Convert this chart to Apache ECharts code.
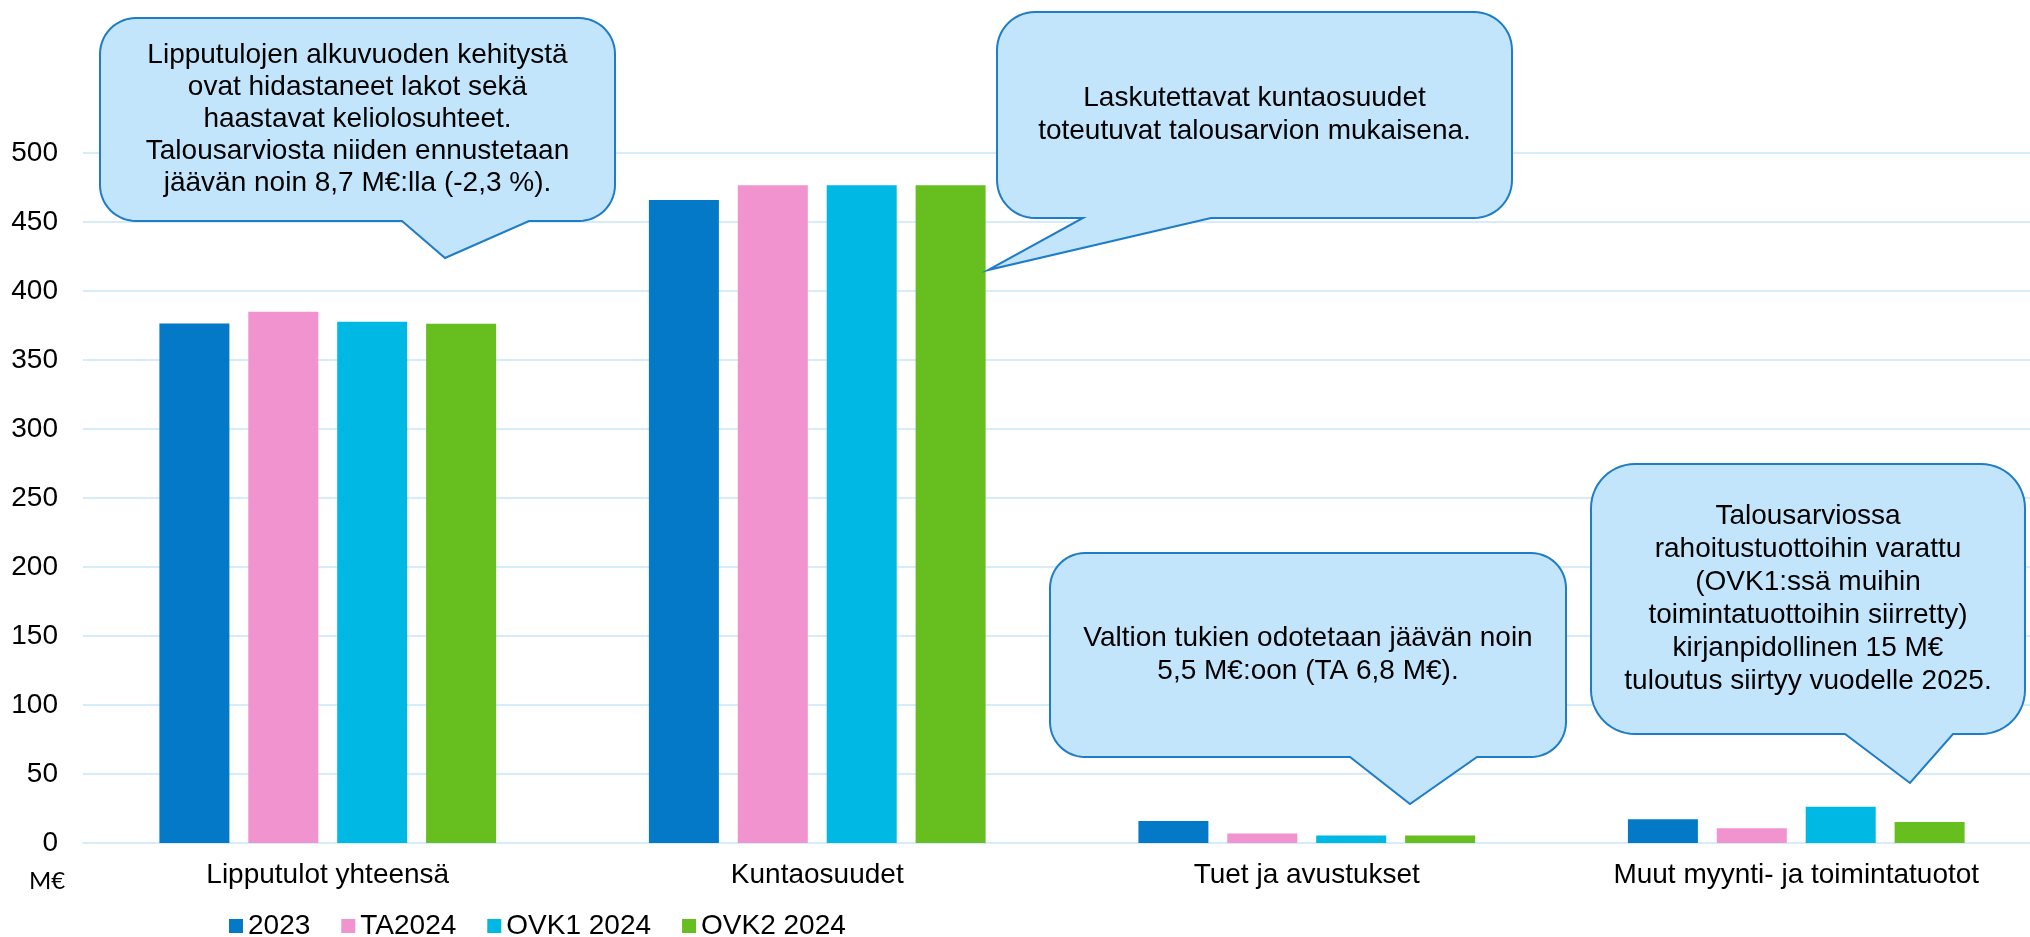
<!DOCTYPE html>
<html>
<head>
<meta charset="utf-8">
<script src="https://cdn.jsdelivr.net/npm/echarts@6/dist/echarts.min.js"></script>
<style>
html,body{margin:0;padding:0;background:#fff;overflow:hidden;width:2030px;height:937px;}
#chart{width:2060px;height:937px;}
</style>
</head>
<body>
<div id="chart"></div>
<script>
// ---- data ----
const categories = ['Lipputulot yhteensä', 'Kuntaosuudet', 'Tuet ja avustukset', 'Muut myynti- ja toimintatuotot'];
const seriesNames = ['2023', 'TA2024', 'OVK1 2024', 'OVK2 2024'];
const values2023 = [376.4, 466.0, 16.0, 17.2];
const valuesTA2024 = [385.0, 476.7, 6.8, 10.7];
const valuesOVK1 = [377.7, 476.7, 5.5, 26.2];
const valuesOVK2 = [376.3, 476.7, 5.5, 15.3];
const yTicks = { min: 0, max: 500, interval: 50 };
const unitLabel = 'M€';
const calloutTexts = [
  'Lipputulojen alkuvuoden kehitystä\novat hidastaneet lakot sekä\nhaastavat keliolosuhteet.\nTalousarviosta niiden ennustetaan\njäävän noin 8,7 M€:lla (-2,3 %).',
  'Laskutettavat kuntaosuudet\ntoteutuvat talousarvion mukaisena.',
  'Valtion tukien odotetaan jäävän noin\n5,5 M€:oon (TA 6,8 M€).',
  'Talousarviossa\nrahoitustuottoihin varattu\n(OVK1:ssä muihin\ntoimintatuottoihin siirretty)\nkirjanpidollinen 15 M€\ntuloutus siirtyy vuodelle 2025.'
];

// ---- styling ----
const colors = ['#0479C8', '#F093CE', '#00B8E4', '#66BE1F'];
const FONT = '"Liberation Sans", Arial, sans-serif';
const gridColor = '#D6ECFB';
const calloutFill = '#C2E5FB';
const calloutStroke = '#1F7CC6';

// callout geometry (annotation layout, in pixels)
const calloutBoxes = [
  { x: 100, y: 18, w: 515, h: 203, r: 36, b1: 402, b2: 529, tx: 445, ty: 258, lh: 32 },
  { x: 997, y: 12, w: 515, h: 206, r: 38, b1: 1083, b2: 1211, tx: 988, ty: 270, lh: 33 },
  { x: 1050, y: 553, w: 516, h: 204, r: 35, b1: 1350, b2: 1477, tx: 1410, ty: 804, lh: 33 },
  { x: 1591, y: 464, w: 434, h: 270, r: 44, b1: 1845, b2: 1953, tx: 1910, ty: 783, lh: 33 }
];

function arcPts(cx, cy, r, a0, a1, n) {
  const pts = [];
  for (let i = 0; i <= n; i++) {
    const a = a0 + (a1 - a0) * i / n;
    pts.push([cx + r * Math.cos(a), cy + r * Math.sin(a)]);
  }
  return pts;
}

function calloutPoints(c) {
  const x0 = c.x, y0 = c.y, x1 = c.x + c.w, y1 = c.y + c.h, r = c.r, n = 14;
  const P = Math.PI;
  let pts = [];
  pts = pts.concat(arcPts(x0 + r, y0 + r, r, P, 1.5 * P, n));
  pts = pts.concat(arcPts(x1 - r, y0 + r, r, 1.5 * P, 2 * P, n));
  pts = pts.concat(arcPts(x1 - r, y1 - r, r, 0, 0.5 * P, n));
  pts.push([c.b2, y1], [c.tx, c.ty], [c.b1, y1]);
  pts = pts.concat(arcPts(x0 + r, y1 - r, r, 0.5 * P, P, n));
  return pts;
}

const graphics = [];
calloutBoxes.forEach((c, i) => {
  graphics.push({
    type: 'polygon',
    z: 100,
    shape: { points: calloutPoints(c) },
    style: { fill: calloutFill, stroke: calloutStroke, lineWidth: 2 }
  });
  graphics.push({
    type: 'text',
    z: 101,
    x: c.x + c.w / 2,
    y: c.y + c.h / 2,
    style: {
      text: calloutTexts[i],
      font: '28px ' + FONT,
      fill: '#000',
      align: 'center',
      verticalAlign: 'middle',
      lineHeight: c.lh
    }
  });
});
graphics.push({
  type: 'text',
  x: 47,
  y: 881,
  style: {
    text: unitLabel,
    font: '24px Lato, "Open Sans", sans-serif',
    fill: '#000',
    align: 'center',
    verticalAlign: 'middle'
  }
});

const valueSets = [values2023, valuesTA2024, valuesOVK1, valuesOVK2];
const series = seriesNames.map((name, i) => ({
  name: name,
  type: 'bar',
  data: valueSets[i],
  barWidth: 70,
  barGap: '27%',
  itemStyle: { color: colors[i] },
  emphasis: { disabled: true }
}));

const chart = echarts.init(document.getElementById('chart'), null, { renderer: 'canvas' });
chart.setOption({
  animation: false,
  backgroundColor: '#fff',
  color: colors,
  grid: { left: 83, top: 153, width: 1958, height: 690, containLabel: false },
  legend: {
    data: seriesNames,
    left: 224,
    top: 907,
    icon: 'rect',
    itemWidth: 14,
    itemHeight: 14,
    itemGap: 31,
    textStyle: { fontSize: 28, fontFamily: FONT, color: '#000' },
    selectedMode: false
  },
  xAxis: {
    type: 'category',
    data: categories,
    axisTick: { show: false },
    axisLine: { show: true, lineStyle: { color: gridColor, width: 2 } },
    axisLabel: { fontSize: 28, fontFamily: FONT, color: '#000', margin: 18, interval: 0 }
  },
  yAxis: {
    type: 'value',
    min: yTicks.min,
    max: yTicks.max,
    interval: yTicks.interval,
    axisLine: { show: false },
    axisTick: { show: false },
    splitLine: { lineStyle: { color: gridColor, width: 2 } },
    axisLabel: { fontSize: 28, fontFamily: FONT, color: '#000', margin: 25 }
  },
  series: series,
  graphic: graphics
});
</script>
</body>
</html>
